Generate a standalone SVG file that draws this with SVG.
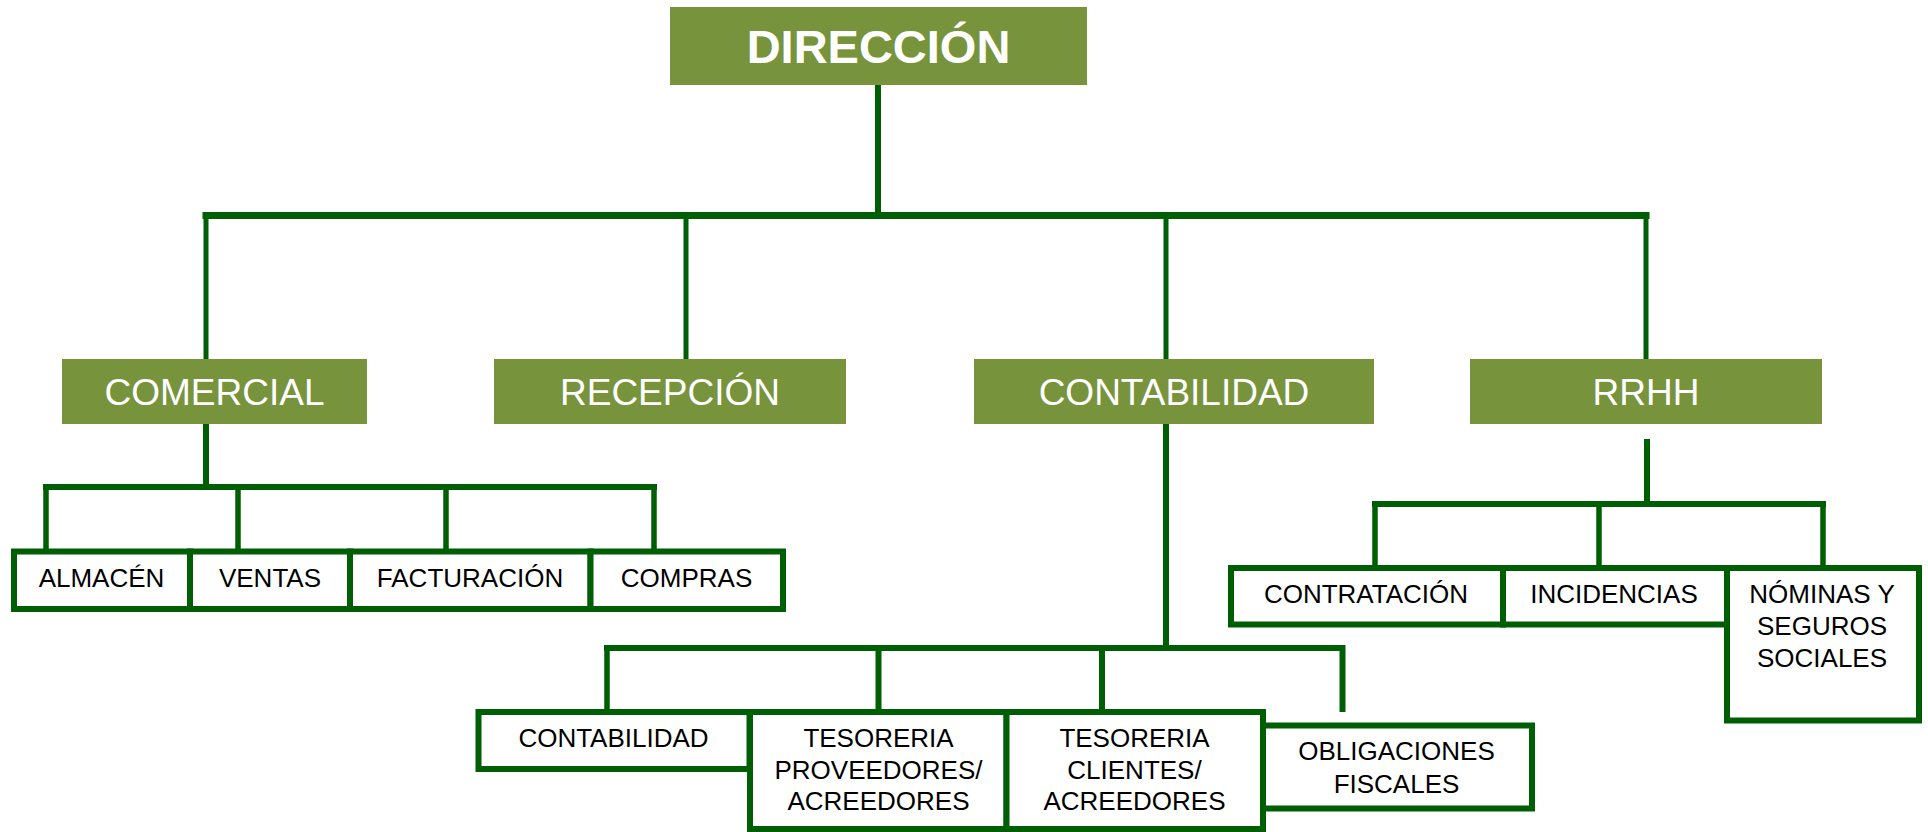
<svg xmlns="http://www.w3.org/2000/svg" width="1928" height="832" viewBox="0 0 1928 832">
<style>
.top{fill:#77933C;}
.tt{font-family:"Liberation Sans",Arial,sans-serif;fill:#ffffff;text-anchor:middle;}
.box{fill:#ffffff;stroke:#005E05;stroke-width:6;}
.bt{font-family:"Liberation Sans",Arial,sans-serif;font-size:26px;fill:#000000;text-anchor:middle;}
.ln{stroke:#005E05;fill:none;stroke-linecap:square;}
</style>
<rect width="1928" height="832" fill="#ffffff"/>
<g id="connectors">
  <line class="ln" x1="878" y1="88" x2="878" y2="213" stroke-width="6"/>
  <line class="ln" x1="206" y1="215.5" x2="1646" y2="215.5" stroke-width="7"/>
  <line class="ln" x1="206" y1="216" x2="206" y2="358" stroke-width="5"/>
  <line class="ln" x1="686" y1="216" x2="686" y2="358" stroke-width="5"/>
  <line class="ln" x1="1166" y1="216" x2="1166" y2="358" stroke-width="5"/>
  <line class="ln" x1="1646" y1="216" x2="1646" y2="358" stroke-width="5"/>
  <line class="ln" x1="206" y1="425" x2="206" y2="486" stroke-width="6"/>
  <line class="ln" x1="46" y1="487" x2="654" y2="487" stroke-width="6"/>
  <line class="ln" x1="46" y1="487" x2="46" y2="548" stroke-width="5.5"/>
  <line class="ln" x1="238" y1="487" x2="238" y2="548" stroke-width="5.5"/>
  <line class="ln" x1="446" y1="487" x2="446" y2="548" stroke-width="5.5"/>
  <line class="ln" x1="654" y1="487" x2="654" y2="548" stroke-width="5.5"/>
  <line class="ln" x1="1166" y1="425" x2="1166" y2="647" stroke-width="6"/>
  <line class="ln" x1="607" y1="648" x2="1342" y2="648" stroke-width="6"/>
  <line class="ln" x1="607" y1="648" x2="607" y2="709" stroke-width="5.5"/>
  <line class="ln" x1="878.5" y1="648" x2="878.5" y2="709" stroke-width="6"/>
  <line class="ln" x1="1102" y1="648" x2="1102" y2="709" stroke-width="6"/>
  <line class="ln" x1="1342.5" y1="648" x2="1342.5" y2="709" stroke-width="6"/>
  <line class="ln" x1="1647" y1="442" x2="1647" y2="503" stroke-width="6"/>
  <line class="ln" x1="1375" y1="504" x2="1823" y2="504" stroke-width="6"/>
  <line class="ln" x1="1375" y1="504" x2="1375" y2="565" stroke-width="5.5"/>
  <line class="ln" x1="1599" y1="504" x2="1599" y2="565" stroke-width="5.5"/>
  <line class="ln" x1="1823" y1="504" x2="1823" y2="565" stroke-width="5.5"/>
</g>
<g id="direccion">
  <rect class="top" x="670" y="7" width="417" height="78"/>
  <text class="tt" x="878.5" y="63" font-size="47" font-weight="bold">DIRECCIÓN</text>
</g>
<g id="comercial">
  <rect class="top" x="62" y="359" width="305" height="65"/>
  <text class="tt" x="214.5" y="405" font-size="37">COMERCIAL</text>
</g>
<g id="recepcion">
  <rect class="top" x="494" y="359" width="352" height="65"/>
  <text class="tt" x="670" y="405" font-size="37">RECEPCIÓN</text>
</g>
<g id="contabilidad">
  <rect class="top" x="974" y="359" width="400" height="65"/>
  <text class="tt" x="1174" y="405" font-size="37">CONTABILIDAD</text>
</g>
<g id="rrhh">
  <rect class="top" x="1470" y="359" width="352" height="65"/>
  <text class="tt" x="1646" y="405" font-size="37">RRHH</text>
</g>
<g id="almacen">
  <rect class="box" x="14" y="551.5" width="176" height="57.5"/>
  <text class="bt" x="101.5" y="587">ALMACÉN</text>
</g>
<g id="ventas">
  <rect class="box" x="190" y="551.5" width="160" height="57.5"/>
  <text class="bt" x="270" y="587">VENTAS</text>
</g>
<g id="facturacion">
  <rect class="box" x="350" y="551.5" width="240.5" height="57.5"/>
  <text class="bt" x="470" y="587">FACTURACIÓN</text>
</g>
<g id="compras">
  <rect class="box" x="590.5" y="551.5" width="192.5" height="57.5"/>
  <text class="bt" x="686.5" y="587">COMPRAS</text>
</g>
<g id="contabilidad2">
  <rect class="box" x="478.5" y="712" width="271" height="57"/>
  <text class="bt" x="613.5" y="747">CONTABILIDAD</text>
</g>
<g id="tesoreria-proveedores">
  <rect class="box" x="750" y="712" width="256.5" height="117"/>
  <text class="bt" x="878.5" y="747">TESORERIA</text>
  <text class="bt" x="878.5" y="778.5">PROVEEDORES/</text>
  <text class="bt" x="878.5" y="810">ACREEDORES</text>
</g>
<g id="tesoreria-clientes">
  <rect class="box" x="1006.5" y="712" width="256.5" height="117"/>
  <text class="bt" x="1134.5" y="747">TESORERIA</text>
  <text class="bt" x="1134.5" y="778.5">CLIENTES/</text>
  <text class="bt" x="1134.5" y="810">ACREEDORES</text>
</g>
<g id="obligaciones">
  <rect class="box" x="1263" y="725.5" width="269" height="83"/>
  <text class="bt" x="1396.5" y="759.5">OBLIGACIONES</text>
  <text class="bt" x="1396.5" y="792.5">FISCALES</text>
</g>
<g id="contratacion">
  <rect class="box" x="1231" y="568" width="272" height="56.5"/>
  <text class="bt" x="1366" y="602.5">CONTRATACIÓN</text>
</g>
<g id="incidencias">
  <rect class="box" x="1503" y="568" width="224" height="56.5"/>
  <text class="bt" x="1614" y="602.5">INCIDENCIAS</text>
</g>
<g id="nominas">
  <rect class="box" x="1727" y="568" width="192" height="152.5"/>
  <text class="bt" x="1822" y="602.5">NÓMINAS Y</text>
  <text class="bt" x="1822" y="635">SEGUROS</text>
  <text class="bt" x="1822" y="666.5">SOCIALES</text>
</g>
</svg>
